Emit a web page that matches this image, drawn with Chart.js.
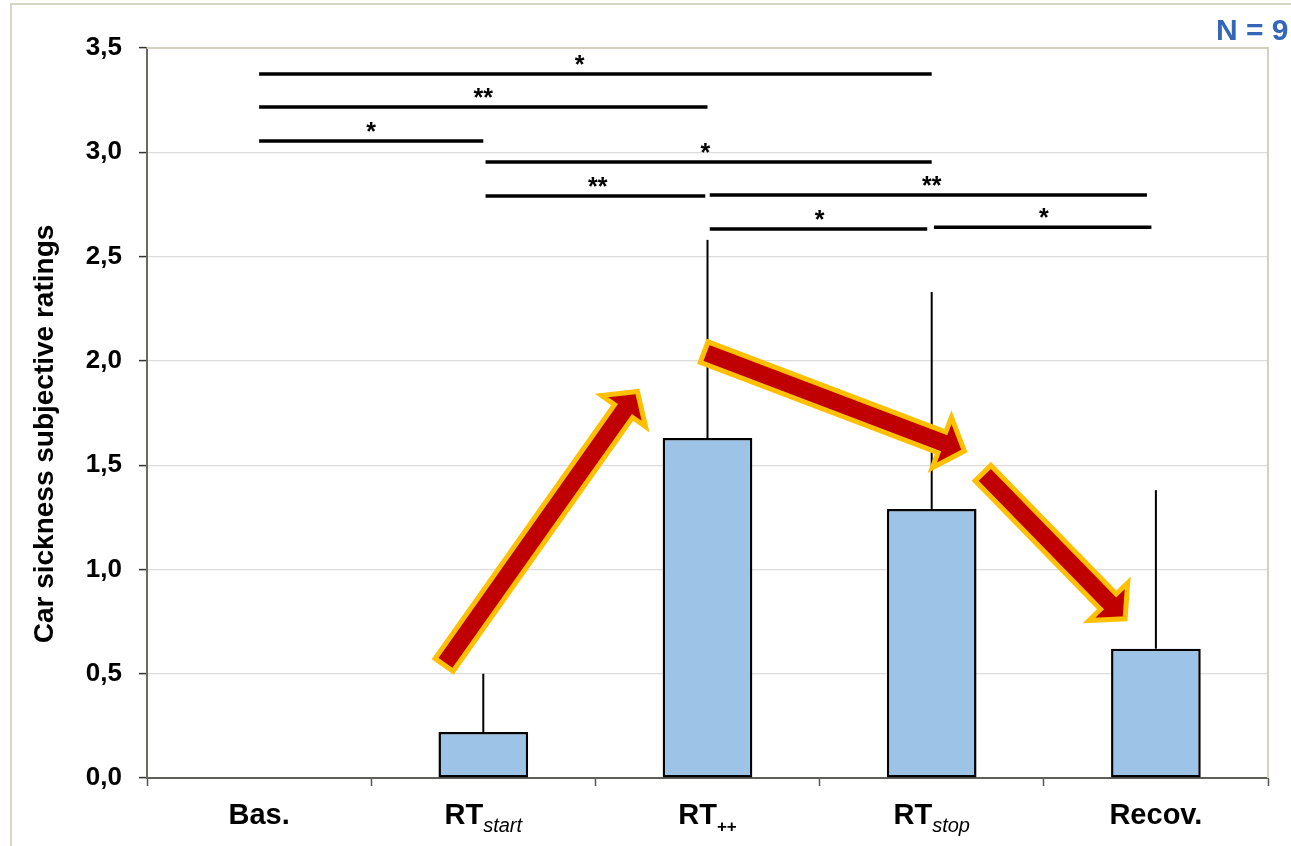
<!DOCTYPE html>
<html>
<head>
<meta charset="utf-8">
<script src="https://cdn.jsdelivr.net/npm/chart.js@4/dist/chart.umd.min.js"></script>
<style>
  html, body { margin: 0; padding: 0; background: #fff; }
  #wrap { width: 1291px; height: 846px; }
</style>
</head>
<body>
<div id="wrap"><canvas id="ratings"></canvas></div>
<script>
// conditions and mean ratings (+ SD, drawn upward only)
const labelMain = ['Bas.', 'RT', 'RT', 'RT', 'Recov.'];
const labelSub = ['', 'start', '++', 'stop', ''];
const meanRatings = [0, 0.22, 1.63, 1.29, 0.62];
const sdRatings = [0, 0.28, 0.95, 1.04, 0.76];

const yMin = 0, yMax = 3.5, yStep = 0.5;

// significance brackets: from / to category, height, marker
const sigFrom = [0, 0, 0, 1.01, 1.01, 2.01, 2.01, 3.01];
const sigTo = [3, 2, 1, 3, 1.99, 3.96, 2.98, 3.98];
const sigLevel = [3.375, 3.217, 3.054, 2.953, 2.79, 2.795, 2.632, 2.641];
const sigMarks = ['*', '**', '*', '*', '**', '**', '*', '*'];
const sigMarkAt = [1.43, 1.0, 0.5, 1.99, 1.51, 3.0, 2.5, 3.5];

// trend arrows: [category position, rating] for tail and head
const arrowTail = [[0.825, 0.542], [1.985, 2.042], [3.229, 1.462]];
const arrowHead = [[1.695, 1.865], [3.158, 1.563], [3.872, 0.753]];

const sampleNote = 'N = 9';
const yTitle = 'Car sickness subjective ratings';

const FONT = 'Arial, "Liberation Sans", sans-serif';

function drawArrow(ctx, x1, y1, x2, y2) {
    const ang = Math.atan2(y2 - y1, x2 - x1);
    const len = Math.hypot(x2 - x1, y2 - y1);
    const sw = 11, hw = 27, hl = 27;
    ctx.save();
    ctx.translate(x1, y1);
    ctx.rotate(ang);
    ctx.beginPath();
    ctx.moveTo(0, -sw);
    ctx.lineTo(len - hl, -sw);
    ctx.lineTo(len - hl, -hw);
    ctx.lineTo(len - 3, 0);
    ctx.lineTo(len - hl, hw);
    ctx.lineTo(len - hl, sw);
    ctx.lineTo(0, sw);
    ctx.closePath();
    ctx.fillStyle = '#C00000';
    ctx.fill();
    ctx.lineWidth = 5;
    ctx.lineJoin = 'miter';
    ctx.strokeStyle = '#FFC000';
    ctx.stroke();
    ctx.restore();
}

const extras = {
    id: 'extras',
    beforeDraw(chart) {
        const ctx = chart.ctx;
        ctx.save();
        // outer frame
        ctx.strokeStyle = '#D9D5C7';
        ctx.lineWidth = 2;
        ctx.beginPath();
        ctx.moveTo(11, 846);
        ctx.lineTo(11, 4);
        ctx.lineTo(1291, 4);
        ctx.stroke();
        ctx.restore();
    },
    beforeDatasetsDraw(chart) {
        const ctx = chart.ctx;
        const a = chart.chartArea;
        ctx.save();
        ctx.strokeStyle = '#D4D0C2';
        ctx.lineWidth = 2;
        ctx.beginPath();
        ctx.moveTo(a.left, a.top);
        ctx.lineTo(a.right, a.top);
        ctx.lineTo(a.right, a.bottom);
        ctx.stroke();
        ctx.restore();
    },
    afterDatasetsDraw(chart) {
        const ctx = chart.ctx;
        const x = chart.scales.x, y = chart.scales.y;
        ctx.save();

        // error bars
        ctx.strokeStyle = '#000';
        ctx.lineWidth = 2;
        meanRatings.forEach((m, i) => {
            if (!sdRatings[i]) return;
            const px = x.getPixelForValue(i);
            ctx.beginPath();
            ctx.moveTo(px, y.getPixelForValue(m));
            ctx.lineTo(px, y.getPixelForValue(m + sdRatings[i]));
            ctx.stroke();
        });

        // significance brackets
        ctx.lineWidth = 3.5;
        ctx.fillStyle = '#000';
        ctx.font = 'bold 25px ' + FONT;
        ctx.textAlign = 'center';
        ctx.textBaseline = 'alphabetic';
        sigLevel.forEach((lvl, i) => {
            const x1 = x.getPixelForValue(sigFrom[i]);
            const x2 = x.getPixelForValue(sigTo[i]);
            const py = y.getPixelForValue(lvl);
            ctx.beginPath();
            ctx.moveTo(x1, py);
            ctx.lineTo(x2, py);
            ctx.stroke();
            ctx.fillText(sigMarks[i], x.getPixelForValue(sigMarkAt[i]), py - 1);
        });

        // trend arrows
        arrowTail.forEach((t, i) => {
            const h = arrowHead[i];
            drawArrow(ctx,
                x.getPixelForValue(t[0]), y.getPixelForValue(t[1]),
                x.getPixelForValue(h[0]), y.getPixelForValue(h[1]));
        });
        ctx.restore();
    },
    afterDraw(chart) {
        const ctx = chart.ctx;
        const a = chart.chartArea;
        const x = chart.scales.x;
        ctx.save();

        // category labels with subscripts
        ctx.fillStyle = '#000';
        ctx.textBaseline = 'alphabetic';
        ctx.textAlign = 'left';
        const base = a.bottom + 46;
        const mainFont = 'bold 29px ' + FONT;
        labelMain.forEach((txt, i) => {
            ctx.font = mainFont;
            const w1 = ctx.measureText(txt).width;
            let w2 = 0;
            const subFont = labelSub[i] === '++' ? 'bold 17px ' + FONT : 'italic 20px ' + FONT;
            if (labelSub[i]) {
                ctx.font = subFont;
                w2 = ctx.measureText(labelSub[i]).width;
            }
            const left = x.getPixelForValue(i) - (w1 + w2) / 2;
            ctx.font = mainFont;
            ctx.fillText(txt, left, base);
            if (labelSub[i]) {
                ctx.font = subFont;
                ctx.fillText(labelSub[i], left + w1, base + 8);
            }
        });

        // y axis title
        ctx.font = 'bold 28px ' + FONT;
        ctx.textAlign = 'center';
        ctx.textBaseline = 'middle';
        ctx.translate(a.left - 102, a.top + 386);
        ctx.rotate(-Math.PI / 2);
        ctx.fillText(yTitle, 0, 0);
        ctx.restore();

        // sample size note
        ctx.save();
        ctx.fillStyle = '#3467B9';
        ctx.font = 'bold 30px ' + FONT;
        ctx.textAlign = 'left';
        ctx.textBaseline = 'alphabetic';
        ctx.fillText(sampleNote, 1216, 40);
        ctx.restore();
    }
};

const ctx = document.getElementById('ratings');
const chart = new Chart(ctx, {
    type: 'bar',
    data: {
        labels: labelMain.map((m, i) => m + labelSub[i]),
        datasets: [{
            label: 'Mean rating',
            data: meanRatings,
            backgroundColor: '#9DC3E6',
            borderColor: '#000',
            borderWidth: 2.5,
            borderSkipped: false,
            barPercentage: 0.4,
            categoryPercentage: 1.0
        }]
    },
    options: {
        responsive: true,
        maintainAspectRatio: false,
        animation: false,
        devicePixelRatio: 1,
        layout: { padding: { left: 0, top: 48, right: 23, bottom: 0 } },
        plugins: {
            legend: { display: false },
            tooltip: { enabled: false }
        },
        scales: {
            x: {
                offset: true,
                grid: {
                    offset: true,
                    drawOnChartArea: false,
                    drawTicks: true,
                    tickLength: 8,
                    tickColor: '#555',
                    tickWidth: 1.5
                },
                border: { color: '#5f5f5a', width: 2 },
                ticks: { display: false },
                afterFit(scale) { scale.height = 68; }
            },
            y: {
                min: yMin,
                max: yMax,
                grid: {
                    color: '#DCDCDC',
                    lineWidth: 1.2,
                    tickColor: '#333',
                    tickLength: 8,
                    tickWidth: 1.5
                },
                border: { color: '#6b6b64', width: 2 },
                ticks: {
                    stepSize: yStep,
                    padding: 17,
                    color: '#000',
                    font: { family: FONT, size: 26, weight: 'bold' },
                    callback: v => v.toFixed(1).replace('.', ',')
                },
                afterFit(scale) { scale.width = 147; }
            }
        }
    },
    plugins: [extras]
});
</script>
</body>
</html>
